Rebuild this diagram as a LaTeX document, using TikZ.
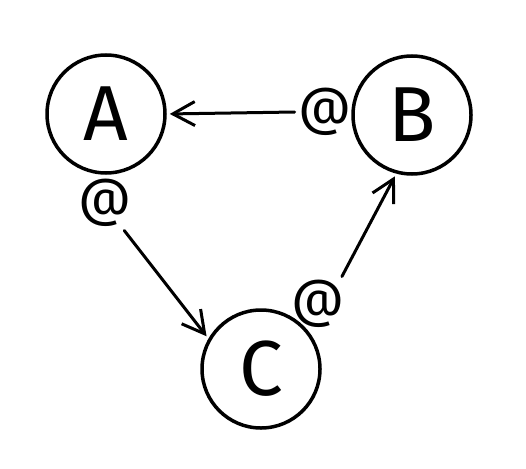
\documentclass[tikz,border=0pt]{standalone}
\usepackage{fontspec}
\newfontfamily\regsans{Fira Sans}
\usetikzlibrary{arrows.meta}
\begin{document}
\begin{tikzpicture}[x=1pt,y=-1pt, line width=3.5pt,
  state/.style={circle, draw, minimum size=118pt, inner sep=0pt, font=\regsans\fontsize{78}{78}\selectfont},
  tag/.style={inner sep=2pt, font=\regsans\fontsize{52}{52}\selectfont},
  link/.style={line width=3pt, -{Straight Barb[length=22pt,width=24pt]}, shorten >=3pt, line cap=round}]
\useasboundingbox (0,0) rectangle (526,468);
\node[state] (A) at (106,114) {A};
\node[state] (B) at (412,115) {B};
\node[state] (C) at (261,369) {C};
\node[tag] (atB) at (325,112) {@};
\node[tag] (atA) at (105,203) {@};
\node[tag] (atC) at (318,304) {@};
\draw[link] (atB.west) -- (A.east);
\draw[link] (atA.-55) -- (C.150);
\draw[link] (atC.49) -- (B.-105);
\end{tikzpicture}
\end{document}
